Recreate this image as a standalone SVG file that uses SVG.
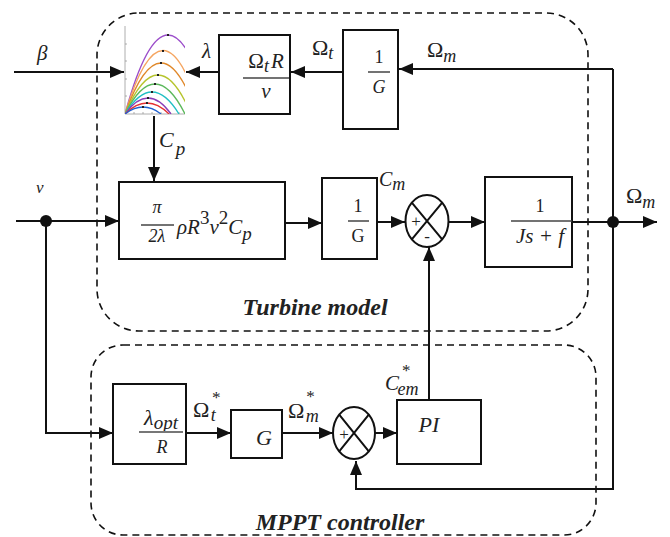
<svg xmlns="http://www.w3.org/2000/svg" width="670" height="537" viewBox="0 0 670 537">
<style>
.box{fill:#fff;stroke:#111;stroke-width:2}
.dash{fill:none;stroke:#111;stroke-width:1.6;stroke-dasharray:7,5}
.wire{fill:none;stroke:#111;stroke-width:2}
.arr{marker-end:url(#ah)}
.t{font-family:"Liberation Serif","DejaVu Serif","Times New Roman",serif;fill:#222}
.i{font-style:italic}
.bi{font-style:italic;font-weight:bold}
.fl{stroke:#444;stroke-width:1.5}
.sum{fill:#fff;stroke:#111;stroke-width:2}
.cv{fill:none;stroke-width:1.3}
</style>
<defs>
<marker id="ah" viewBox="0 0 14 12" refX="14" refY="6" markerWidth="14" markerHeight="12" markerUnits="userSpaceOnUse" orient="auto">
<path d="M0,0 L14,6 L0,12 z" fill="#111"/>
</marker>
<clipPath id="pc"><rect x="125" y="26" width="60" height="88"/></clipPath>
</defs>

<g id="turbine-frame">
<rect class="dash" x="97" y="13" width="491" height="318" rx="42" ry="42"/>
<text class="t bi" x="315" y="315" font-size="24" text-anchor="middle">Turbine model</text>
</g>
<g id="mppt-frame">
<rect class="dash" x="91" y="345" width="505" height="190" rx="32" ry="32"/>
<text class="t bi" x="340" y="530" font-size="24" text-anchor="middle">MPPT controller</text>
</g>

<g id="connectors">
<path class="wire arr" d="M14,72 H124"/>
<path class="wire arr" d="M219,72 H186"/>
<path class="wire arr" d="M343,72 H291"/>
<path class="wire arr" d="M613,69 H399"/>
<path class="wire arr" d="M613,69 V489 H356 V461"/>
<path class="wire arr" d="M154,115 V181"/>
<path class="wire arr" d="M16,221 H119"/>
<path class="wire arr" d="M46,221 V433 H113"/>
<path class="wire arr" d="M285,223 H322"/>
<path class="wire arr" d="M377,222 H405"/>
<path class="wire arr" d="M448,222 H485"/>
<path class="wire arr" d="M572,222 H657"/>
<path class="wire arr" d="M429,400 V247"/>
<path class="wire arr" d="M186,433 H231"/>
<path class="wire arr" d="M282,433 H333"/>
<path class="wire arr" d="M375,433 H397"/>
<circle cx="46" cy="221" r="6" fill="#111"/>
<circle cx="613" cy="222" r="6" fill="#111"/>
</g>

<g id="labels">
<text class="t i" x="37" y="60" font-size="21">β</text>
<text class="t i" x="202" y="58" font-size="21">λ</text>
<text class="t" x="312" y="55" font-size="22">Ω<tspan class="i" font-size="18" dy="4">t</tspan></text>
<text class="t" x="427" y="57" font-size="22">Ω<tspan class="i" font-size="18" dy="5">m</tspan></text>
<text class="t i" x="159" y="147" font-size="22">C<tspan font-size="19" dx="2" dy="8">p</tspan></text>
<text class="t i" x="36" y="193" font-size="17">v</text>
<text class="t i" x="379" y="186" font-size="20">C<tspan font-size="18" dy="4">m</tspan></text>
<text class="t" x="626" y="203" font-size="22">Ω<tspan class="i" font-size="18" dy="5">m</tspan></text>
<text class="t" x="193" y="417" font-size="22">Ω<tspan class="i" font-size="17" dx="2" dy="-14" font-style="normal">*</tspan><tspan class="i" font-size="18" dx="-9" dy="18">t</tspan></text>
<text class="t" x="288" y="418" font-size="22">Ω<tspan font-size="17" dx="2" dy="-16">*</tspan><tspan class="i" font-size="18" dx="-9" dy="20">m</tspan></text>
<text class="t i" x="385" y="390" font-size="21" fill="#555">C<tspan font-size="17" font-style="normal" dx="3" dy="-14">*</tspan><tspan font-size="18" dx="-13" dy="19">em</tspan></text>
</g>

<g id="cp-map">
<rect x="124" y="25" width="62" height="91" fill="#fff"/>
<path d="M125,26 V114 H185" fill="none" stroke="#999" stroke-width="0.8"/>
<path d="M125,44 h2 M125,61 h2 M125,79 h2 M125,96 h2 M134,114 v-2 M143,114 v-2 M152,114 v-2 M161,114 v-2 M170,114 v-2 M179,114 v-2" stroke="#999" stroke-width="0.8"/>
<g clip-path="url(#pc)">
<path class="cv" stroke="#9b4dca" d="M125,114 Q168,-44 211,114"/>
<path class="cv" stroke="#f5a560" d="M125,114 Q163,-13 201,114"/>
<path class="cv" stroke="#e0882a" d="M125,114 Q161,12 197,114"/>
<path class="cv" stroke="#b6c42c" d="M125,114 Q158,36 191,114"/>
<path class="cv" stroke="#5cb85c" d="M125,114 Q155,54 185,114"/>
<path class="cv" stroke="#20bfc4" d="M125,114 Q152,70 179,114"/>
<path class="cv" stroke="#8a3db8" d="M125,114 Q148,82 171,114"/>
<path class="cv" stroke="#e53030" d="M125,114 Q147,92 169,114"/>
<path class="cv" stroke="#2060d0" d="M125,114 Q143,100 161,114"/>
</g>
<g fill="#222">
<rect x="167" y="34" width="2" height="2"/>
<rect x="162" y="50" width="2" height="2"/>
<rect x="160" y="62" width="2" height="2"/>
<rect x="157" y="74" width="2" height="2"/>
<rect x="154" y="83" width="2" height="2"/>
<rect x="151" y="91" width="2" height="2"/>
<rect x="147" y="97" width="2" height="2"/>
<rect x="146" y="102" width="2" height="2"/>
<rect x="142" y="106" width="2" height="2"/>
</g>
</g>

<g id="lambda-calc">
<rect class="box" x="219" y="35" width="71" height="79"/>
<text class="t" x="266" y="68" font-size="21" text-anchor="middle" fill="#444">Ω<tspan class="i" font-size="18" dy="4">t</tspan><tspan class="i" dy="-4" dx="2">R</tspan></text>
<line class="fl" x1="243" y1="78" x2="289" y2="78"/>
<text class="t i" x="266" y="98" font-size="21" text-anchor="middle" fill="#444">v</text>
</g>

<g id="gear-inv-top">
<rect class="box" x="343" y="30" width="55" height="99"/>
<text class="t" x="379" y="63" font-size="18" text-anchor="middle" fill="#444">1</text>
<line class="fl" x1="368" y1="72" x2="390" y2="72"/>
<text class="t i" x="379" y="93" font-size="18" text-anchor="middle" fill="#444">G</text>
</g>

<g id="power-block">
<rect class="box" x="119" y="182" width="166" height="77"/>
<text class="t i" x="157" y="213" font-size="18" text-anchor="middle" fill="#444">π</text>
<line class="fl" x1="141" y1="225" x2="174" y2="225"/>
<text class="t i" x="157" y="242" font-size="18" text-anchor="middle" fill="#444">2λ</text>
<text class="t i" x="177" y="234" font-size="21" fill="#444">ρR<tspan dy="-10" font-size="19" font-style="normal">3</tspan><tspan dy="10">v</tspan><tspan dy="-10" font-size="19" font-style="normal">2</tspan><tspan dy="10">C</tspan><tspan dy="6" font-size="19">p</tspan></text>
</g>

<g id="gear-inv">
<rect class="box" x="322" y="178" width="55" height="81"/>
<text class="t" x="358" y="212" font-size="18" text-anchor="middle" fill="#444">1</text>
<line class="fl" x1="348" y1="221" x2="369" y2="221"/>
<text class="t" x="358" y="242" font-size="18" text-anchor="middle" fill="#444">G</text>
</g>

<g id="sum1">
<ellipse class="sum" cx="427" cy="221" rx="21.5" ry="26"/>
<path d="M411.8,202.6 L442.2,239.4 M442.2,202.6 L411.8,239.4" stroke="#111" stroke-width="2"/>
<text class="t" x="416" y="227" font-size="17" text-anchor="middle">+</text>
<text class="t" x="427" y="242" font-size="17" text-anchor="middle">-</text>
</g>

<g id="mech">
<rect class="box" x="485" y="177" width="87" height="90"/>
<text class="t" x="540" y="212" font-size="18" text-anchor="middle" fill="#444">1</text>
<line class="fl" x1="511" y1="221" x2="572" y2="221"/>
<text class="t i" x="540" y="243" font-size="21" text-anchor="middle" fill="#444">Js + f</text>
</g>

<g id="lambda-opt">
<rect class="box" x="113" y="384" width="73" height="80"/>
<text class="t i" x="161" y="425" font-size="22" text-anchor="middle" fill="#444">λ<tspan font-size="19" dy="4">opt</tspan></text>
<line x1="139" y1="432" x2="183" y2="432" stroke="#777" stroke-width="2"/>
<text class="t i" x="162" y="453" font-size="18" text-anchor="middle" fill="#444">R</text>
</g>

<g id="gain-G">
<rect class="box" x="231" y="410" width="51" height="48"/>
<text class="t i" x="264" y="445" font-size="22" text-anchor="middle" fill="#444">G</text>
</g>

<g id="sum2">
<ellipse class="sum" cx="354" cy="433" rx="21" ry="26"/>
<path d="M339.2,414.6 L368.8,451.4 M368.8,414.6 L339.2,451.4" stroke="#111" stroke-width="2"/>
<text class="t" x="344" y="440" font-size="17" text-anchor="middle">+</text>
</g>

<g id="pi">
<rect class="box" x="397" y="400" width="84" height="64"/>
<text class="t i" x="429" y="432" font-size="22" text-anchor="middle">PI</text>
</g>
</svg>
